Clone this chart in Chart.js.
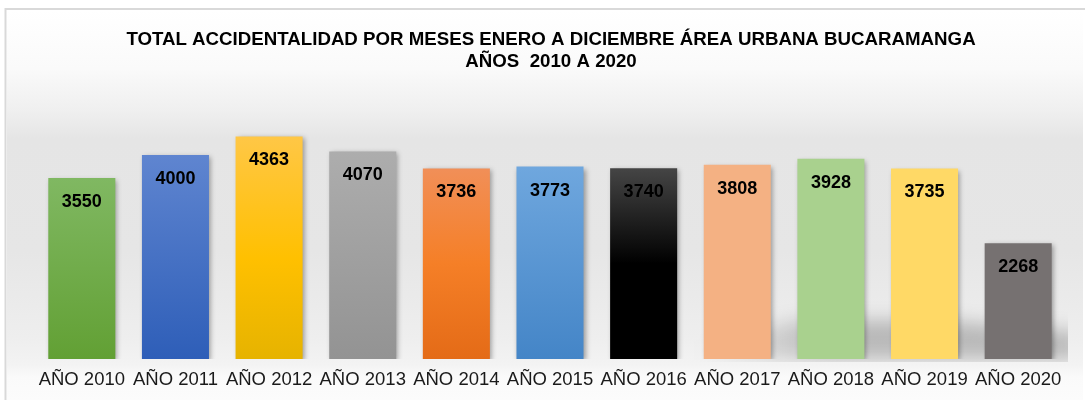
<!DOCTYPE html>
<html>
<head>
<meta charset="utf-8">
<script src="https://cdn.jsdelivr.net/npm/chart.js@4.4.1/dist/chart.umd.min.js"></script>
<style>
  html, body { margin: 0; padding: 0; background: #ffffff; }
  #wrap { width: 1085px; height: 400px; }
</style>
</head>
<body>
<div id="wrap"><canvas id="c" width="1085" height="400"></canvas></div>
<script>
// Yearly totals of traffic accidents, urban area of Bucaramanga
const years = ['AÑO 2010', 'AÑO 2011', 'AÑO 2012', 'AÑO 2013', 'AÑO 2014', 'AÑO 2015',
               'AÑO 2016', 'AÑO 2017', 'AÑO 2018', 'AÑO 2019', 'AÑO 2020'];
const totals = [3550, 4000, 4363, 4070, 3736, 3773, 3740, 3808, 3928, 3735, 2268];
const titleLines = ['TOTAL ACCIDENTALIDAD POR MESES ENERO A DICIEMBRE ÁREA URBANA BUCARAMANGA',
                    'AÑOS  2010 A 2020'];

// Fill of each bar: colour stops from the top of the bar to its base
const barFills = [
  [[0, '#80b862'], [1, '#62a034']],
  [[0, '#5f85d0'], [1, '#2e5eb8']],
  [[0, '#ffc746'], [0.55, '#ffc000'], [1, '#e6b300']],
  [[0, '#adadad'], [1, '#939393']],
  [[0, '#f18f58'], [0.5, '#f57f27'], [1, '#e46b17']],
  [[0, '#6fa7de'], [1, '#4485c7']],
  [[0, '#454545'], [0.5, '#000000'], [1, '#000000']],
  [[0, '#f4b183'], [1, '#f4b183']],
  [[0, '#a9d18e'], [1, '#a9d18e']],
  [[0, '#ffd966'], [1, '#ffd966']],
  [[0, '#767171'], [1, '#767171']]
];

const FONT = "'Liberation Sans', Arial, sans-serif";

function barGradient(ctx) {
  const chart = ctx.chart;
  const stops = barFills[ctx.dataIndex];
  const y = chart.scales && chart.scales.y;
  if (!chart.chartArea || !y || ctx.raw == null) return stops[0][1];
  const top = y.getPixelForValue(ctx.raw);
  const base = y.getPixelForValue(0);
  const g = chart.ctx.createLinearGradient(0, top, 0, base);
  stops.forEach(s => g.addColorStop(s[0], s[1]));
  return g;
}

// Frame, soft grey backdrop and the blurred floor shadow
const backdrop = {
  id: 'backdrop',
  beforeDraw(chart) {
    const c = chart.ctx;
    const W = chart.width, H = chart.height;
    c.save();
    c.fillStyle = '#ffffff';
    c.fillRect(0, 0, W, H);

    const g = c.createLinearGradient(0, 10, 0, 400);
    g.addColorStop(0.00, '#ffffff');
    g.addColorStop(0.15, '#fafafa');
    g.addColorStop(0.26, '#efefef');
    g.addColorStop(0.33, '#e5e5e5');
    g.addColorStop(0.62, '#e6e6e6');
    g.addColorStop(0.84, '#eeeeee');
    g.addColorStop(0.91, '#f3f3f3');
    g.addColorStop(0.94, '#fafafa');
    g.addColorStop(1.00, '#fcfcfc');
    c.fillStyle = g;
    c.fillRect(7, 10, W - 9, H - 10);

    // floor shadow on the right half
    c.save();
    c.beginPath();
    c.rect(0, 0, 1068, 362);
    c.clip();
    c.filter = 'blur(9px)';
    const sg = c.createLinearGradient(700, 0, 830, 0);
    sg.addColorStop(0, 'rgba(0,0,0,0)');
    sg.addColorStop(1, 'rgba(0,0,0,0.22)');
    c.fillStyle = sg;
    c.beginPath();
    c.moveTo(700, 342);
    c.lineTo(800, 320);
    c.lineTo(940, 320);
    c.lineTo(1080, 332);
    c.lineTo(1080, 360);
    c.lineTo(700, 360);
    c.closePath();
    c.fill();
    c.restore();

    // outer frame
    c.strokeStyle = '#d9d9d9';
    c.lineWidth = 2;
    c.beginPath();
    c.moveTo(5.5, H);
    c.lineTo(5.5, 9);
    c.lineTo(W, 9);
    c.stroke();
    c.restore();
  }
};

// Soft drop shadow under the bars
const barShadow = {
  id: 'barShadow',
  beforeDatasetsDraw(chart) {
    const c = chart.ctx;
    c.save();
    c.shadowColor = 'rgba(0,0,0,0.35)';
    c.shadowBlur = 5;
    c.shadowOffsetX = 2;
    c.shadowOffsetY = 2;
  },
  afterDatasetsDraw(chart) {
    chart.ctx.restore();
  }
};

// Values written inside the top of each bar, and the two-line title
const labels = {
  id: 'labels',
  afterDraw(chart) {
    const c = chart.ctx;
    c.save();
    c.fillStyle = '#000000';
    c.textAlign = 'center';
    c.textBaseline = 'middle';
    c.font = 'bold 18px ' + FONT;
    const meta = chart.getDatasetMeta(0);
    meta.data.forEach((bar, i) => {
      c.fillText(String(chart.data.datasets[0].data[i]), bar.x, bar.y + 24);
    });
    c.font = 'bold 18.7px ' + FONT;
    c.fillText(titleLines[0], 551, 39.5);
    c.fillText(titleLines[1], 551, 61.5);
    c.restore();
  }
};

new Chart(document.getElementById('c'), {
  type: 'bar',
  data: {
    labels: years,
    datasets: [{
      data: totals,
      backgroundColor: barGradient,
      borderWidth: 0,
      categoryPercentage: 1,
      barPercentage: 0.716
    }]
  },
  options: {
    responsive: false,
    animation: false,
    devicePixelRatio: 1,
    layout: { padding: { left: 35, right: 20, top: 104, bottom: 0 } },
    plugins: {
      legend: { display: false },
      title: { display: false },
      tooltip: { enabled: false }
    },
    scales: {
      x: {
        grid: { display: false, drawTicks: false },
        border: { display: false },
        afterFit(scale) { scale.height = 41; },
        ticks: {
          color: '#1a1a1a',
          padding: 10,
          maxRotation: 0,
          autoSkip: false,
          font: { family: FONT, size: 18.5 }
        }
      },
      y: {
        display: false,
        min: 0,
        max: 5000
      }
    }
  },
  plugins: [backdrop, barShadow, labels]
});
</script>
</body>
</html>
